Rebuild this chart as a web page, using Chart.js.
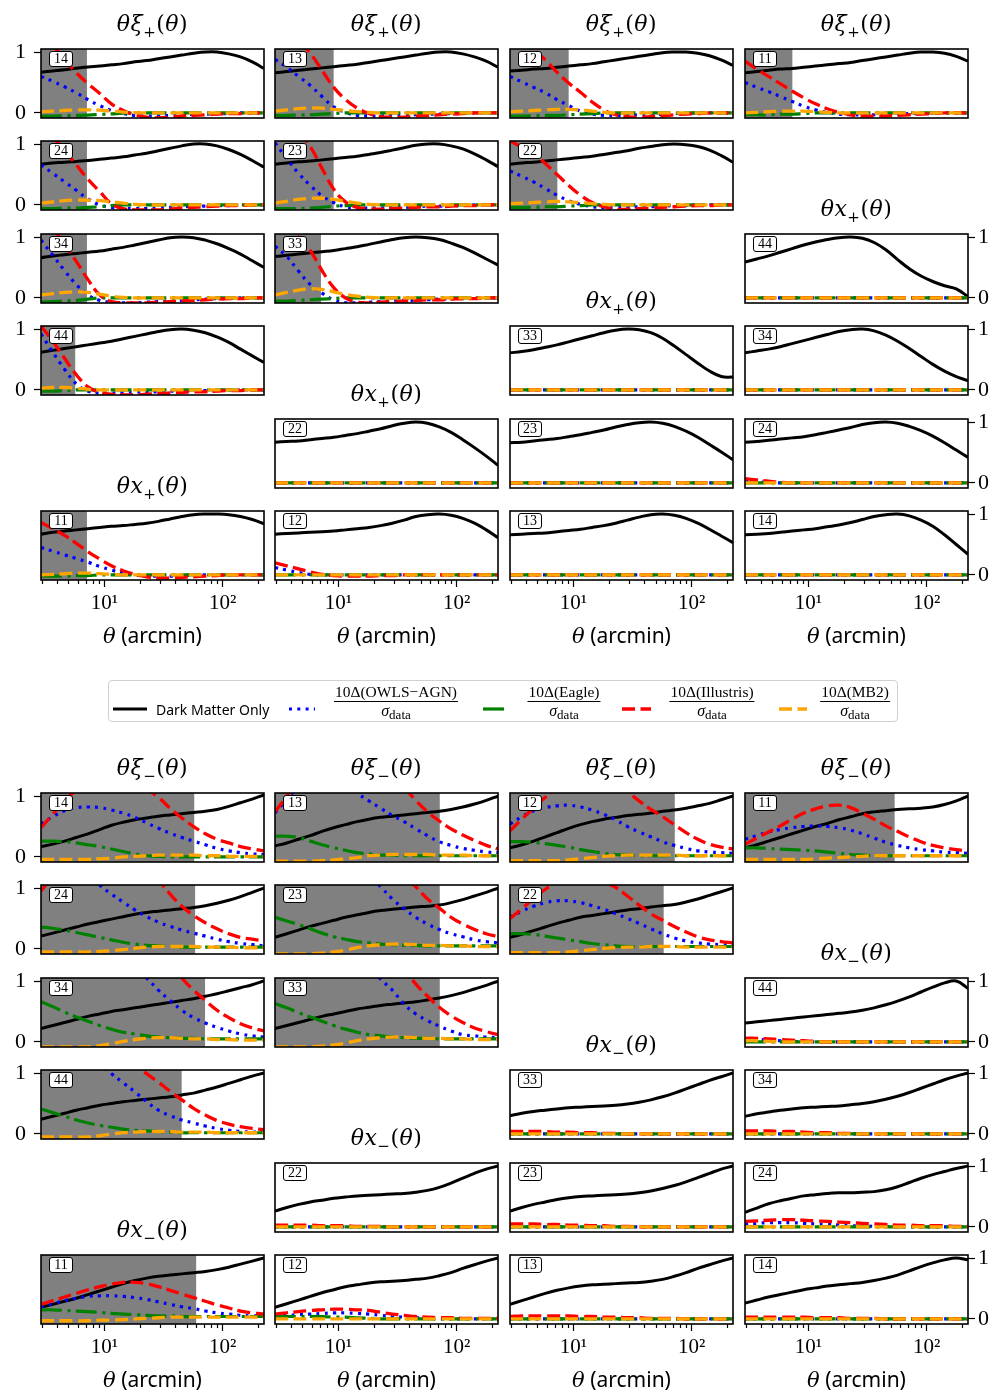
<!DOCTYPE html>
<html>
<head>
<meta charset="utf-8">
<title>Baryonic contamination of cosmic shear</title>
<script src="https://cdn.jsdelivr.net/npm/chart.js@4.4.1/dist/chart.umd.min.js"></script>
<style>
html,body{margin:0;padding:0;background:#fff;}
#fig{position:relative;width:997px;height:1399px;overflow:hidden;background:#fff;}
.pc{position:absolute;}
.pc canvas{display:block;}
.ttl{position:absolute;font-family:'DejaVu Serif',serif;font-size:22px;white-space:nowrap;transform:translate(-50%,-50%);line-height:1;color:#000;letter-spacing:0.5px;}
.ttl i{font-style:italic;}
.ttl sub{font-size:15px;vertical-align:-6px;line-height:0;}
.bx{position:absolute;width:22px;height:14px;border:1.7px solid #000;border-radius:3px;background:#fff;font-family:'Liberation Serif',serif;font-size:14px;line-height:14px;text-align:center;color:#000;}
.axt{position:absolute;white-space:nowrap;transform:translate(-50%,-50%);font-size:21px;line-height:1;color:#000;}
.axt i{font-family:'DejaVu Serif',serif;font-style:italic;}
.axt span{font-family:'Noto Sans',sans-serif;}
#legend{position:absolute;left:108px;top:680px;width:790px;height:42px;border:1.5px solid #d0d0d0;border-radius:4px;box-sizing:border-box;background:#fff;}
.lgtxt{position:absolute;font-family:'Noto Sans',sans-serif;font-size:14px;line-height:1;transform:translateY(-50%);white-space:nowrap;color:#000;}
.frac{position:absolute;transform:translateX(-50%);text-align:center;font-family:'Liberation Serif',serif;font-size:15.5px;line-height:1;color:#000;white-space:nowrap;}
.frac .num{border-bottom:1px solid #000;padding:0 1px 1px 1px;}
.frac .den{padding-top:1px;}
.frac .den i{font-style:italic;font-size:16px;}
.frac .den sub{font-size:13px;vertical-align:-3px;line-height:0;}
svg.lg{position:absolute;overflow:visible;}
</style>
</head>
<body>
<div id="fig"></div>
<script>
// ---------------- data ----------------
const THETA = [2.90,3.65,4.59,5.77,7.25,9.11,11.45,14.39,18.09,22.74,28.58,35.93,45.16,56.77,71.36,89.70,112.8,141.7,178.2,224.0];
const X_RANGE = [2.90, 224.0];
const Y_RANGE = [-0.083, 1.05];
const X_MINOR = [3,4,5,6,7,8,9,20,30,40,50,60,70,80,90,200];
const X_MAJOR = [10,100];
const X_TICK_TEXT = ['10\u00B9','10\u00B2'];
const Y_TICKS = [0,1];
const Y_TICK_TEXT = ['0','1'];
const SERIES_LABELS = ['Dark Matter Only','10\u0394(OWLS\u2212AGN)','10\u0394(Eagle)','10\u0394(Illustris)','10\u0394(MB2)'];

const BINS_XI = ['14','13','12','11','24','23','22','34','33','44'];
const BINS_X  = ['44','33','34','22','23','24','11','12','13','14'];
const ZERO20 = [0,0,0,0,0,0,0,0,0,0,0,0,0,0,0,0,0,0,0,0];

// theta xi_+ : scale cuts (arcmin)
const XIP_CUT = [7.1, 9.1, 9.1, 7.3, 7.1, 9.1, 7.3, 7.1, 7.1, 5.65];
const XIP_DMO = [
 [0.67,0.69,0.71,0.735,0.755,0.77,0.79,0.81,0.84,0.86,0.89,0.92,0.95,0.98,1.0,1.0,0.97,0.92,0.84,0.73],
 [0.66,0.68,0.70,0.72,0.74,0.76,0.78,0.80,0.83,0.86,0.89,0.92,0.95,0.98,1.0,1.0,0.97,0.92,0.85,0.75],
 [0.69,0.70,0.72,0.73,0.75,0.77,0.79,0.81,0.84,0.87,0.90,0.93,0.96,0.99,1.0,1.0,0.98,0.94,0.87,0.78],
 [0.66,0.68,0.70,0.72,0.73,0.75,0.77,0.79,0.81,0.83,0.86,0.89,0.92,0.95,0.98,1.0,1.0,0.98,0.93,0.85],
 [0.67,0.69,0.70,0.715,0.73,0.75,0.77,0.79,0.82,0.85,0.89,0.93,0.97,1.0,1.0,0.97,0.91,0.83,0.73,0.62],
 [0.67,0.69,0.71,0.72,0.74,0.76,0.78,0.80,0.83,0.86,0.90,0.94,0.98,1.0,1.0,0.97,0.92,0.84,0.74,0.63],
 [0.67,0.69,0.70,0.72,0.74,0.76,0.78,0.80,0.83,0.86,0.89,0.93,0.96,0.99,1.0,0.99,0.96,0.90,0.81,0.70],
 [0.66,0.69,0.71,0.73,0.75,0.77,0.80,0.83,0.87,0.91,0.95,0.99,1.0,0.99,0.95,0.89,0.81,0.72,0.61,0.50],
 [0.68,0.70,0.72,0.74,0.76,0.78,0.81,0.84,0.88,0.92,0.96,0.99,1.0,0.99,0.96,0.90,0.83,0.74,0.64,0.54],
 [0.62,0.65,0.68,0.71,0.74,0.77,0.80,0.84,0.88,0.92,0.96,0.99,1.0,0.98,0.94,0.87,0.78,0.67,0.56,0.45]
];
const XIP_OWLS = [
 [0.60,0.52,0.43,0.33,0.22,0.12,0.04,-0.01,-0.04,-0.05,-0.05,-0.04,-0.03,-0.02,-0.02,-0.01,-0.01,0,0,0],
 [0.88,0.75,0.60,0.45,0.27,0.10,0.01,-0.04,-0.05,-0.05,-0.04,-0.03,-0.03,-0.02,-0.02,-0.01,-0.01,0,0,0],
 [0.60,0.51,0.42,0.33,0.22,0.12,0.03,-0.02,-0.04,-0.04,-0.04,-0.03,-0.03,-0.02,-0.01,-0.01,0,0,0,0],
 [0.50,0.42,0.35,0.27,0.19,0.11,0.05,0.01,-0.02,-0.03,-0.03,-0.03,-0.02,-0.02,-0.01,-0.01,0,0,0,0],
 [0.66,0.52,0.38,0.24,0.10,0.00,-0.04,-0.05,-0.06,-0.06,-0.05,-0.04,-0.03,-0.02,-0.02,-0.01,-0.01,0,0,0],
 [1.02,0.76,0.52,0.32,0.15,0.04,-0.03,-0.05,-0.05,-0.05,-0.04,-0.04,-0.03,-0.02,-0.02,-0.01,-0.01,0,0,0],
 [0.56,0.47,0.38,0.27,0.16,0.07,0.01,-0.03,-0.04,-0.04,-0.04,-0.03,-0.03,-0.02,-0.01,-0.01,0,0,0,0],
 [0.95,0.70,0.45,0.22,0.05,-0.04,-0.07,-0.08,-0.08,-0.07,-0.06,-0.05,-0.04,-0.03,-0.02,-0.01,-0.01,0,0,0],
 [0.85,0.68,0.44,0.22,0.08,-0.03,-0.08,-0.08,-0.07,-0.06,-0.05,-0.04,-0.04,-0.03,-0.02,-0.01,-0.01,0,0,0],
 [0.92,0.62,0.34,0.10,-0.02,-0.05,-0.05,-0.05,-0.04,-0.03,-0.03,-0.02,-0.02,-0.01,-0.01,-0.01,0,0,0,0]
];
const XIP_EAGLE = [
 [-0.05,-0.05,-0.045,-0.04,-0.035,-0.025,-0.015,-0.005,0,0,0,0,0,0,0,0,0,0,0,0],
 [-0.04,-0.04,-0.035,-0.03,-0.02,-0.01,0,0,0,0,0,0,0,0,0,0,0,0,0,0],
 [-0.05,-0.05,-0.045,-0.04,-0.04,-0.03,-0.02,-0.01,0,0,0,0,0,0,0,0,0,0,0,0],
 [-0.03,-0.03,-0.03,-0.02,-0.02,-0.01,0,0,0,0,0,0,0,0,0,0,0,0,0,0],
 [-0.06,-0.06,-0.05,-0.05,-0.04,-0.03,-0.01,0,0,0,0,0,0,0,0,0,0,0,0,0],
 [-0.06,-0.06,-0.06,-0.05,-0.04,-0.02,-0.01,0,0,0,0,0,0,0,0,0,0,0,0,0],
 [-0.04,-0.04,-0.04,-0.03,-0.03,-0.02,-0.01,0,0,0,0,0,0,0,0,0,0,0,0,0],
 [-0.07,-0.06,-0.05,-0.04,-0.02,0,0,0,0,0,0,0,0,0,0,0,0,0,0,0],
 [-0.05,-0.05,-0.04,-0.03,-0.02,-0.01,0,0,0,0,0,0,0,0,0,0,0,0,0,0],
 [-0.02,-0.02,-0.01,0,0,0,0,0,0,0,0,0,0,0,0,0,0,0,0,0]
];
const XIP_ILL = [
 [1.35,1.12,0.88,0.66,0.48,0.32,0.15,0.04,-0.03,-0.07,-0.08,-0.07,-0.05,-0.04,-0.03,-0.02,-0.01,-0.01,0,0],
 [1.6,1.4,1.18,0.98,0.70,0.42,0.22,0.08,-0.01,-0.06,-0.07,-0.07,-0.05,-0.04,-0.03,-0.02,-0.01,0,0,0],
 [1.45,1.25,1.05,0.87,0.67,0.49,0.34,0.18,0.05,-0.03,-0.06,-0.07,-0.06,-0.05,-0.03,-0.02,-0.01,0,0,0],
 [0.85,0.72,0.60,0.48,0.36,0.25,0.15,0.07,0.01,-0.03,-0.05,-0.05,-0.05,-0.04,-0.03,-0.02,-0.01,0,0,0],
 [1.35,1.12,0.90,0.66,0.42,0.22,0.02,-0.06,-0.08,-0.08,-0.08,-0.07,-0.05,-0.04,-0.03,-0.02,-0.01,-0.01,0,0],
 [1.65,1.42,1.2,0.96,0.60,0.26,0.05,-0.04,-0.06,-0.07,-0.06,-0.05,-0.04,-0.03,-0.03,-0.02,-0.01,-0.01,0,0],
 [1.05,0.95,0.85,0.68,0.50,0.32,0.16,0.04,-0.03,-0.07,-0.07,-0.06,-0.05,-0.04,-0.03,-0.02,-0.01,-0.01,0,0],
 [1.4,1.15,0.88,0.60,0.30,0.05,-0.06,-0.08,-0.08,-0.08,-0.07,-0.06,-0.05,-0.04,-0.03,-0.02,-0.01,-0.01,0,0],
 [1.5,1.25,1.0,0.78,0.45,0.17,0.0,-0.07,-0.08,-0.07,-0.06,-0.05,-0.04,-0.03,-0.03,-0.02,-0.01,-0.01,0,0],
 [1.05,0.80,0.52,0.25,0.05,-0.04,-0.07,-0.08,-0.08,-0.07,-0.06,-0.05,-0.04,-0.03,-0.03,-0.02,-0.01,-0.01,0,0]
];
const XIP_MB2 = [
 [0.02,0.03,0.04,0.05,0.05,0.045,0.03,0.015,0.005,0,0,0,0,0,0,0,0,0,0,0],
 [0.03,0.05,0.07,0.08,0.08,0.06,0.04,0.02,0.01,0,0,0,0,0,0,0,0,0,0,0],
 [0.02,0.03,0.04,0.05,0.06,0.06,0.05,0.03,0.01,0,0,0,0,0,0,0,0,0,0,0],
 [0.0,0.01,0.02,0.03,0.03,0.03,0.02,0.01,0,0,0,0,0,0,0,0,0,0,0,0],
 [0.03,0.05,0.07,0.08,0.08,0.07,0.05,0.03,0.01,0,0,0,0,0,0,0,0,0,0,0],
 [0.03,0.06,0.09,0.11,0.11,0.09,0.06,0.03,0.01,0,0,0,0,0,0,0,0,0,0,0],
 [0.02,0.03,0.04,0.05,0.06,0.05,0.04,0.02,0.01,0,0,0,0,0,0,0,0,0,0,0],
 [0.05,0.07,0.09,0.10,0.09,0.06,0.03,0.01,0,0,0,0,0,0,0,0,0,0,0,0],
 [0.05,0.09,0.13,0.15,0.14,0.10,0.06,0.03,0.01,0,0,0,0,0,0,0,0,0,0,0],
 [0.03,0.04,0.04,0.03,0.01,0,0,0,0,0,0,0,0,0,0,0,0,0,0,0]
];

// theta x_+
const XP_CUT = [null,null,null,null,null,null,7.1,null,null,null];
const XP_DMO = [
 [0.59,0.64,0.69,0.75,0.81,0.87,0.92,0.96,0.99,1.0,0.98,0.91,0.79,0.63,0.48,0.36,0.27,0.20,0.15,0.02],
 [0.61,0.63,0.66,0.70,0.74,0.79,0.84,0.89,0.94,0.98,1.0,0.99,0.94,0.85,0.72,0.58,0.44,0.31,0.22,0.21],
 [0.61,0.64,0.67,0.71,0.76,0.81,0.86,0.91,0.96,0.99,1.0,0.97,0.90,0.80,0.68,0.55,0.42,0.31,0.22,0.15],
 [0.67,0.68,0.69,0.71,0.73,0.75,0.78,0.81,0.85,0.89,0.94,0.98,1.0,0.98,0.92,0.83,0.71,0.58,0.44,0.29],
 [0.66,0.67,0.69,0.71,0.73,0.76,0.79,0.83,0.87,0.92,0.96,0.99,1.0,0.98,0.93,0.85,0.75,0.63,0.51,0.38],
 [0.67,0.68,0.70,0.72,0.74,0.76,0.79,0.83,0.87,0.91,0.96,0.99,1.0,0.98,0.93,0.86,0.77,0.66,0.54,0.42],
 [0.67,0.70,0.72,0.74,0.76,0.78,0.80,0.81,0.83,0.85,0.88,0.92,0.96,0.99,1.0,1.0,0.99,0.96,0.91,0.84],
 [0.67,0.68,0.69,0.70,0.71,0.72,0.74,0.76,0.78,0.81,0.85,0.90,0.96,0.99,1.0,0.98,0.93,0.85,0.74,0.61],
 [0.66,0.67,0.68,0.69,0.71,0.73,0.75,0.78,0.81,0.85,0.90,0.95,0.99,1.0,0.98,0.93,0.85,0.75,0.64,0.53],
 [0.66,0.67,0.68,0.70,0.72,0.74,0.76,0.79,0.82,0.86,0.91,0.96,0.99,1.0,0.97,0.90,0.80,0.66,0.50,0.34]
];
const XP_OWLS = [
 ZERO20, ZERO20, ZERO20, ZERO20, ZERO20,
 [0.03,0.02,0.01,0,0,0,0,0,0,0,0,0,0,0,0,0,0,0,0,0],
 [0.45,0.39,0.33,0.27,0.21,0.14,0.08,0.03,0.0,-0.02,-0.02,-0.02,-0.01,0,0,0,0,0,0,0],
 [0.12,0.08,0.04,0.01,0,0,0,0,0,0,0,0,0,0,0,0,0,0,0,0],
 ZERO20, ZERO20
];
const XP_EAGLE = [
 ZERO20, ZERO20, ZERO20, ZERO20, ZERO20, ZERO20,
 [-0.02,-0.02,-0.02,-0.01,-0.01,0,0,0,0,0,0,0,0,0,0,0,0,0,0,0],
 ZERO20, ZERO20, ZERO20
];
const XP_ILL = [
 ZERO20, ZERO20, ZERO20, ZERO20, ZERO20,
 [0.07,0.05,0.03,0.01,0,0,0,0,0,0,0,0,0,0,0,0,0,0,0,0],
 [0.86,0.76,0.65,0.52,0.38,0.26,0.15,0.07,0.01,-0.03,-0.05,-0.05,-0.04,-0.03,-0.02,-0.01,0,0,0,0],
 [0.20,0.15,0.10,0.05,0.01,-0.01,-0.02,-0.02,-0.02,-0.01,-0.01,0,0,0,0,0,0,0,0,0],
 ZERO20, ZERO20
];
const XP_MB2 = [
 ZERO20, ZERO20, ZERO20, ZERO20, ZERO20, ZERO20,
 [0.0,0.01,0.02,0.03,0.03,0.02,0.01,0,0,0,0,0,0,0,0,0,0,0,0,0],
 ZERO20, ZERO20, ZERO20
];

// theta xi_-
const XIM_CUT = [57.5, 72, 72, 53.6, 58.5, 72, 58, 71, 72, 45];
const XIM_DMO = [
 [0.17,0.21,0.26,0.32,0.38,0.45,0.52,0.57,0.61,0.64,0.67,0.69,0.71,0.73,0.75,0.78,0.83,0.89,0.95,1.02],
 [0.18,0.23,0.29,0.35,0.42,0.48,0.53,0.58,0.62,0.65,0.67,0.69,0.71,0.73,0.75,0.78,0.82,0.87,0.93,1.0],
 [0.15,0.20,0.26,0.33,0.40,0.47,0.53,0.58,0.62,0.65,0.68,0.70,0.72,0.75,0.77,0.80,0.84,0.88,0.94,1.0],
 [0.15,0.20,0.26,0.32,0.38,0.44,0.50,0.55,0.61,0.66,0.71,0.74,0.76,0.78,0.79,0.80,0.82,0.86,0.92,1.0],
 [0.21,0.26,0.31,0.36,0.41,0.45,0.49,0.53,0.57,0.60,0.62,0.64,0.66,0.68,0.71,0.75,0.80,0.86,0.93,1.0],
 [0.19,0.25,0.31,0.37,0.42,0.47,0.52,0.56,0.60,0.63,0.65,0.67,0.69,0.70,0.72,0.76,0.81,0.87,0.93,1.0],
 [0.19,0.24,0.30,0.36,0.42,0.47,0.52,0.55,0.58,0.61,0.64,0.66,0.69,0.71,0.73,0.77,0.82,0.88,0.94,1.0],
 [0.22,0.27,0.32,0.37,0.42,0.46,0.50,0.53,0.56,0.59,0.62,0.65,0.68,0.71,0.75,0.79,0.84,0.89,0.94,1.0],
 [0.22,0.27,0.32,0.37,0.42,0.46,0.50,0.54,0.57,0.60,0.62,0.64,0.66,0.69,0.72,0.76,0.81,0.87,0.93,1.0],
 [0.24,0.29,0.34,0.39,0.43,0.47,0.50,0.53,0.55,0.57,0.59,0.61,0.64,0.67,0.72,0.77,0.83,0.89,0.95,1.0]
];
const XIM_OWLS = [
 [0.54,0.66,0.76,0.81,0.82,0.81,0.77,0.72,0.65,0.56,0.47,0.39,0.32,0.26,0.20,0.14,0.10,0.07,0.05,0.04],
 [0.72,0.95,1.15,1.3,1.35,1.32,1.22,1.05,0.92,0.80,0.68,0.58,0.46,0.35,0.25,0.19,0.14,0.11,0.08,0.07],
 [0.54,0.66,0.76,0.81,0.84,0.85,0.82,0.77,0.70,0.61,0.50,0.41,0.33,0.25,0.19,0.14,0.10,0.08,0.07,0.06],
 [0.29,0.35,0.41,0.45,0.48,0.50,0.51,0.50,0.48,0.44,0.38,0.31,0.24,0.19,0.15,0.12,0.10,0.08,0.07,0.06],
 [2.2,1.9,1.65,1.45,1.25,1.05,0.90,0.77,0.64,0.53,0.44,0.37,0.31,0.26,0.21,0.16,0.12,0.09,0.07,0.05],
 [3.0,2.7,2.45,2.2,2.0,1.8,1.6,1.4,1.2,1.02,0.82,0.66,0.52,0.41,0.32,0.25,0.20,0.15,0.12,0.10],
 [0.52,0.62,0.70,0.76,0.79,0.79,0.76,0.71,0.65,0.58,0.50,0.42,0.33,0.25,0.18,0.13,0.10,0.08,0.07,0.06],
 [2.8,2.6,2.4,2.2,2.0,1.8,1.6,1.4,1.2,1.05,0.85,0.68,0.52,0.40,0.31,0.24,0.18,0.13,0.10,0.08],
 [3.0,2.8,2.6,2.4,2.2,2.0,1.8,1.5,1.25,1.03,0.85,0.62,0.46,0.35,0.26,0.18,0.12,0.10,0.08,0.07],
 [2.5,2.2,1.9,1.6,1.35,1.15,0.99,0.84,0.69,0.53,0.39,0.30,0.23,0.18,0.13,0.09,0.06,0.04,0.03,0.03]
];
const XIM_EAGLE = [
 [0.26,0.26,0.25,0.23,0.20,0.17,0.13,0.09,0.05,0.02,0.01,0,0,0,0,0,0,0,0,0],
 [0.34,0.34,0.32,0.26,0.20,0.15,0.11,0.07,0.05,0.03,0.03,0.02,0.02,0.02,0.02,0.02,0.02,0.02,0.02,0.02],
 [0.25,0.25,0.24,0.22,0.19,0.16,0.12,0.09,0.06,0.04,0.03,0.02,0.02,0.02,0.02,0.02,0.02,0.02,0.02,0.02],
 [0.15,0.15,0.14,0.13,0.12,0.11,0.10,0.08,0.06,0.04,0.03,0.02,0.02,0.02,0.02,0.02,0.02,0.02,0.02,0.02],
 [0.36,0.34,0.31,0.27,0.23,0.19,0.15,0.11,0.08,0.06,0.05,0.04,0.03,0.03,0.03,0.03,0.03,0.03,0.03,0.03],
 [0.52,0.46,0.40,0.33,0.26,0.20,0.16,0.12,0.10,0.08,0.07,0.06,0.06,0.05,0.05,0.05,0.05,0.05,0.05,0.05],
 [0.25,0.25,0.24,0.21,0.18,0.15,0.12,0.09,0.07,0.05,0.04,0.04,0.04,0.04,0.04,0.04,0.04,0.04,0.04,0.04],
 [0.66,0.58,0.49,0.41,0.34,0.27,0.21,0.16,0.13,0.10,0.08,0.07,0.06,0.06,0.05,0.05,0.05,0.05,0.05,0.05],
 [0.63,0.56,0.48,0.41,0.34,0.27,0.21,0.16,0.12,0.10,0.08,0.07,0.06,0.06,0.05,0.05,0.05,0.05,0.05,0.05],
 [0.41,0.35,0.29,0.23,0.18,0.14,0.11,0.08,0.06,0.05,0.04,0.03,0.02,0.02,0.02,0.02,0.02,0.02,0.02,0.02]
];
const XIM_ILL = [
 [0.48,0.70,0.92,1.1,1.25,1.35,1.38,1.35,1.25,1.12,0.98,0.80,0.64,0.50,0.38,0.29,0.23,0.17,0.13,0.10],
 [0.74,1.0,1.3,1.55,1.75,1.9,1.95,1.92,1.8,1.6,1.38,1.15,0.93,0.74,0.59,0.46,0.36,0.27,0.19,0.13],
 [0.43,0.62,0.80,0.98,1.12,1.25,1.33,1.35,1.3,1.2,1.07,0.92,0.78,0.66,0.53,0.40,0.29,0.21,0.16,0.13],
 [0.21,0.31,0.41,0.51,0.62,0.72,0.79,0.84,0.85,0.81,0.72,0.62,0.51,0.42,0.33,0.25,0.19,0.15,0.12,0.10],
 [0.95,1.2,1.45,1.65,1.85,1.95,2.0,1.9,1.7,1.45,1.15,0.90,0.70,0.55,0.43,0.33,0.25,0.19,0.16,0.13],
 [3.6,3.5,3.4,3.2,3.0,2.8,2.55,2.3,2.0,1.7,1.45,1.2,1.02,0.82,0.67,0.52,0.41,0.32,0.25,0.20],
 [0.50,0.66,0.83,0.98,1.1,1.18,1.2,1.17,1.1,1.01,0.87,0.72,0.58,0.47,0.37,0.28,0.20,0.15,0.12,0.10],
 [3.8,3.7,3.6,3.4,3.2,3.0,2.7,2.4,2.1,1.8,1.55,1.3,1.05,0.85,0.68,0.52,0.40,0.30,0.23,0.18],
 [3.8,3.7,3.6,3.4,3.2,3.0,2.7,2.4,2.1,1.8,1.5,1.2,0.95,0.75,0.57,0.43,0.32,0.23,0.17,0.12],
 [3.5,3.3,3.1,2.8,2.5,2.1,1.75,1.4,1.15,0.99,0.85,0.70,0.56,0.42,0.31,0.22,0.16,0.12,0.09,0.07]
];
const XIM_MB2 = [
 [-0.04,-0.04,-0.04,-0.04,-0.04,-0.03,-0.02,0.0,0.01,0.02,0.03,0.03,0.03,0.03,0.02,0.02,0.01,0.01,0.01,0.01],
 [-0.07,-0.07,-0.07,-0.07,-0.06,-0.05,-0.03,-0.01,0.02,0.03,0.04,0.04,0.04,0.04,0.03,0.03,0.03,0.02,0.02,0.02],
 [-0.06,-0.06,-0.06,-0.06,-0.06,-0.05,-0.03,-0.01,0.01,0.02,0.03,0.03,0.03,0.03,0.03,0.02,0.02,0.02,0.02,0.02],
 [-0.04,-0.04,-0.04,-0.04,-0.04,-0.04,-0.03,-0.02,-0.01,0.0,0.01,0.02,0.02,0.02,0.02,0.02,0.02,0.02,0.02,0.02],
 [-0.05,-0.05,-0.05,-0.05,-0.05,-0.04,-0.03,-0.01,0.01,0.03,0.04,0.04,0.04,0.04,0.03,0.03,0.03,0.02,0.02,0.02],
 [-0.08,-0.08,-0.08,-0.08,-0.07,-0.05,-0.02,0.02,0.05,0.07,0.08,0.08,0.07,0.06,0.06,0.05,0.05,0.04,0.04,0.04],
 [-0.06,-0.06,-0.06,-0.06,-0.06,-0.05,-0.03,-0.01,0.01,0.02,0.03,0.03,0.04,0.04,0.04,0.03,0.03,0.03,0.03,0.03],
 [-0.08,-0.08,-0.08,-0.08,-0.08,-0.06,-0.03,0.01,0.04,0.06,0.07,0.07,0.06,0.05,0.05,0.04,0.04,0.03,0.03,0.03],
 [-0.08,-0.08,-0.08,-0.08,-0.07,-0.05,-0.02,0.02,0.05,0.07,0.08,0.08,0.07,0.06,0.06,0.05,0.05,0.04,0.04,0.04],
 [-0.05,-0.05,-0.05,-0.05,-0.05,-0.03,0.0,0.02,0.03,0.04,0.04,0.04,0.03,0.03,0.03,0.02,0.02,0.02,0.02,0.02]
];

// theta x_-
const XM_CUT = [null,null,null,null,null,null,59.7,null,null,null];
const XM_DMO = [
 [0.31,0.33,0.35,0.37,0.39,0.41,0.43,0.45,0.47,0.49,0.52,0.56,0.61,0.67,0.74,0.82,0.90,0.97,1.0,0.88],
 [0.30,0.34,0.37,0.39,0.41,0.43,0.44,0.45,0.46,0.47,0.49,0.52,0.56,0.61,0.67,0.74,0.81,0.88,0.94,1.0],
 [0.29,0.33,0.36,0.39,0.41,0.43,0.44,0.45,0.46,0.48,0.50,0.53,0.57,0.62,0.68,0.75,0.82,0.89,0.95,1.0],
 [0.26,0.32,0.37,0.41,0.44,0.47,0.49,0.51,0.52,0.53,0.54,0.55,0.57,0.60,0.65,0.72,0.80,0.88,0.95,1.0],
 [0.26,0.32,0.37,0.41,0.45,0.48,0.50,0.51,0.52,0.53,0.54,0.56,0.59,0.63,0.68,0.74,0.81,0.88,0.95,1.0],
 [0.24,0.31,0.38,0.43,0.47,0.51,0.53,0.55,0.56,0.56,0.57,0.58,0.61,0.66,0.73,0.80,0.86,0.91,0.96,1.0],
 [0.19,0.24,0.29,0.34,0.40,0.46,0.52,0.58,0.63,0.67,0.70,0.72,0.74,0.76,0.78,0.81,0.85,0.90,0.95,1.0],
 [0.19,0.25,0.31,0.37,0.43,0.48,0.53,0.56,0.59,0.61,0.62,0.63,0.65,0.67,0.71,0.76,0.83,0.89,0.95,1.0],
 [0.24,0.30,0.36,0.42,0.47,0.51,0.54,0.56,0.57,0.58,0.59,0.60,0.62,0.65,0.70,0.76,0.83,0.89,0.95,1.0],
 [0.26,0.31,0.36,0.40,0.44,0.48,0.51,0.54,0.56,0.58,0.60,0.63,0.67,0.72,0.79,0.86,0.92,0.97,1.0,0.97]
];
const XM_OWLS = [
 [0.04,0.04,0.03,0.02,0.01,0,0,0,0,0,0,0,0,0,0,0,0,0,0,0],
 ZERO20, ZERO20, ZERO20, ZERO20,
 [0.05,0.06,0.07,0.07,0.07,0.06,0.05,0.04,0.03,0.02,0.02,0.01,0.01,0,0,0,0,0,0,0],
 [0.20,0.25,0.30,0.34,0.37,0.38,0.38,0.37,0.35,0.32,0.28,0.24,0.20,0.17,0.13,0.10,0.08,0.06,0.05,0.05],
 [0.05,0.06,0.07,0.08,0.09,0.10,0.10,0.09,0.08,0.06,0.04,0.03,0.02,0.01,0,0,0,0,0,0],
 ZERO20, ZERO20
];
const XM_EAGLE = [
 ZERO20, ZERO20, ZERO20, ZERO20, ZERO20, ZERO20,
 [0.15,0.15,0.14,0.13,0.12,0.11,0.09,0.08,0.07,0.06,0.05,0.05,0.04,0.04,0.04,0.04,0.04,0.04,0.04,0.04],
 [0.04,0.04,0.04,0.04,0.04,0.03,0.03,0.02,0.01,0,0,0,0,0,0,0,0,0,0,0],
 ZERO20, ZERO20
];
const XM_ILL = [
 [0.06,0.06,0.05,0.04,0.03,0.02,0.01,0,0,0,0,0,0,0,0,0,0,0,0,0],
 [0.04,0.04,0.04,0.04,0.03,0.03,0.02,0.02,0.01,0.01,0,0,0,0,0,0,0,0,0,0],
 [0.05,0.05,0.05,0.04,0.04,0.03,0.02,0.02,0.01,0.01,0,0,0,0,0,0,0,0,0,0],
 [0.03,0.03,0.03,0.03,0.02,0.02,0.02,0.01,0.01,0.01,0,0,0,0,0,0,0,0,0,0],
 [0.05,0.05,0.05,0.04,0.04,0.03,0.03,0.02,0.02,0.01,0.01,0,0,0,0,0,0,0,0,0],
 [0.09,0.10,0.11,0.12,0.12,0.11,0.10,0.09,0.08,0.07,0.06,0.05,0.04,0.03,0.03,0.02,0.02,0.02,0.01,0.01],
 [0.24,0.30,0.36,0.42,0.48,0.53,0.57,0.60,0.60,0.58,0.53,0.47,0.41,0.35,0.29,0.23,0.18,0.13,0.10,0.08],
 [0.08,0.10,0.12,0.14,0.15,0.16,0.16,0.15,0.14,0.11,0.08,0.06,0.04,0.03,0.02,0.02,0.01,0.01,0.01,0.01],
 [0.04,0.05,0.05,0.05,0.05,0.05,0.04,0.04,0.03,0.03,0.02,0.02,0.01,0.01,0.01,0,0,0,0,0],
 [0.03,0.03,0.03,0.03,0.03,0.03,0.02,0.02,0.02,0.01,0.01,0.01,0,0,0,0,0,0,0,0]
];
const XM_MB2 = [
 [0.02,0.02,0.01,0,0,0,0,0,0,0,0,0,0,0,0,0,0,0,0,0],
 ZERO20, ZERO20, ZERO20, ZERO20, ZERO20,
 [-0.03,-0.03,-0.03,-0.03,-0.03,-0.02,-0.02,-0.01,0.0,0.01,0.02,0.03,0.03,0.03,0.03,0.03,0.03,0.03,0.03,0.03],
 ZERO20, ZERO20, ZERO20
];

// ---------------- styles & layout ----------------
const SERIES_STYLE = [
  {color:'#000000', width:3.0, dash:[], order:5},
  {color:'#0000ff', width:3.2, dash:[3,5.3], order:4},
  {color:'#008000', width:3.2, dash:[21,5.3,3.3,5.3], order:3},
  {color:'#ff0000', width:3.3, dash:[13,5.5], order:2},
  {color:'#ffa500', width:3.3, dash:[13,5.5], order:1}
];
const COL_LEFT = [41, 275, 510, 745];
const PW = 223, PH = 69;
const HALF_TOP = [49, 793];
const ROW_PITCH = 92.4;
const M = 40;

const GROUPS = [
  {half:0, kind:'xi', sign:'+', bins:BINS_XI, cut:XIP_CUT, data:[XIP_DMO,XIP_OWLS,XIP_EAGLE,XIP_ILL,XIP_MB2]},
  {half:0, kind:'x',  sign:'+', bins:BINS_X,  cut:XP_CUT,  data:[XP_DMO,XP_OWLS,XP_EAGLE,XP_ILL,XP_MB2]},
  {half:1, kind:'xi', sign:'\u2212', bins:BINS_XI, cut:XIM_CUT, data:[XIM_DMO,XIM_OWLS,XIM_EAGLE,XIM_ILL,XIM_MB2]},
  {half:1, kind:'x',  sign:'\u2212', bins:BINS_X,  cut:XM_CUT,  data:[XM_DMO,XM_OWLS,XM_EAGLE,XM_ILL,XM_MB2]}
];

const fig = document.getElementById('fig');
function rowTop(half,row){ return Math.round(HALF_TOP[half] + row*ROW_PITCH); }
function addHTML(cls, html, x, y){
  const d = document.createElement('div'); d.className = cls; d.innerHTML = html;
  d.style.left = x+'px'; d.style.top = y+'px'; fig.appendChild(d); return d;
}

const framePlugin = {
  id:'frame',
  afterDatasetsDraw(chart){
    const a = chart.chartArea, c = chart.ctx;
    c.save(); c.lineWidth = 1.6; c.strokeStyle = '#000';
    c.strokeRect(a.left, a.top, a.right-a.left, a.bottom-a.top); c.restore();
  }
};
function shadePlugin(cut){
  return {
    id:'shade',
    beforeDatasetsDraw(chart){
      if (cut == null) return;
      const a = chart.chartArea, c = chart.ctx;
      const xp = chart.scales.x.getPixelForValue(cut);
      c.save(); c.fillStyle = '#808080';
      c.fillRect(a.left, a.top, xp - a.left, a.bottom - a.top); c.restore();
    }
  };
}

function buildPanel(g, idx){
  const bin = g.bins[idx];
  const a = +bin[0], b = +bin[1];
  const row = g.kind === 'xi' ? a-1 : 6-a;
  const col = g.kind === 'xi' ? 4-b : b-1;
  const left = COL_LEFT[col], top = rowTop(g.half, row);
  const yLabeled = (g.kind === 'xi' && col === 0) || (g.kind === 'x' && col === 3);
  const yPos = (g.kind === 'x' && col === 3) ? 'right' : 'left';
  const xLabeled = row === 5;

  const holder = document.createElement('div');
  holder.className = 'pc';
  holder.style.left = (left - M) + 'px';
  holder.style.top = (top - M) + 'px';
  const cv = document.createElement('canvas');
  cv.width = PW + 2*M; cv.height = PH + 2*M;
  cv.style.width = cv.width + 'px'; cv.style.height = cv.height + 'px';
  holder.appendChild(cv); fig.appendChild(holder);

  const datasets = SERIES_STYLE.map((s, k) => ({
    label: SERIES_LABELS[k],
    data: THETA.map((t, i) => ({x:t, y:g.data[k][idx][i]})),
    borderColor: s.color, borderWidth: s.width, borderDash: s.dash, order: s.order,
    pointRadius: 0, fill: false, tension: 0.4, clip: 0
  }));
  const allX = X_MINOR.concat(X_MAJOR).sort((p,q)=>p-q);

  new Chart(cv, {
    type: 'line',
    data: {datasets},
    options: {
      responsive: false, animation: false, devicePixelRatio: 1,
      events: [],
      layout: {padding: {top: M, bottom: 0, left: yPos === 'right' ? M : 0, right: yPos === 'left' ? M : 0}},
      plugins: {legend: {display: false}, tooltip: {enabled: false}},
      scales: {
        x: {
          type: 'logarithmic', min: X_RANGE[0], max: X_RANGE[1], position: 'bottom',
          afterBuildTicks(s){ s.ticks = allX.map(v => ({value: v, major: X_MAJOR.includes(v)})); },
          afterFit(s){ s.height = M; s.paddingLeft = 0; s.paddingRight = 0; },
          grid: {display: true, drawOnChartArea: false, drawTicks: xLabeled, tickLength: 7, tickColor: '#000', tickWidth: 1.2,
                 tickBorderDash: (ctx) => (ctx.tick && X_MAJOR.includes(ctx.tick.value)) ? [] : [4, 30]},
          border: {display: false},
          ticks: {display: xLabeled, autoSkip: false, maxRotation: 0, minRotation: 0, padding: 4, color: '#000',
                  font: {family: 'Liberation Serif', size: 21},
                  callback: (v) => { const k = X_MAJOR.indexOf(v); return k >= 0 ? X_TICK_TEXT[k] : ''; }}
        },
        y: {
          type: 'linear', min: Y_RANGE[0], max: Y_RANGE[1], position: yPos,
          afterBuildTicks(s){ s.ticks = Y_TICKS.map(v => ({value: v})); },
          afterFit(s){ s.width = M; s.paddingTop = 0; s.paddingBottom = 0; },
          grid: {display: true, drawOnChartArea: false, drawTicks: yLabeled, tickLength: 7, tickColor: '#000', tickWidth: 1.2},
          border: {display: false},
          ticks: {display: yLabeled, padding: yPos === 'left' ? 8 : 3, color: '#000',
                  font: {family: 'Liberation Serif', size: 22},
                  callback: (v) => { const k = Y_TICKS.indexOf(v); return k >= 0 ? Y_TICK_TEXT[k] : ''; }}
        }
      }
    },
    plugins: [shadePlugin(g.cut[idx]), framePlugin]
  });

  // bin-pair label box
  addHTML('bx', bin, left + 8, top + 2);
  // title over the panel
  const showTitle = (g.kind === 'xi' && row === 0) || (g.kind === 'x' && a === b);
  if (showTitle) {
    const sym = g.kind === 'xi' ? '\u03B8\u03BE' : '\u03B8x';
    addHTML('ttl', '<i>' + sym + '</i><sub>' + g.sign + '</sub>(<i>\u03B8</i>)', left + PW/2, top - 25);
  }
  if (xLabeled) {
    addHTML('axt', '<i>\u03B8</i><span> (arcmin)</span>', left + PW/2, top + PH + 56);
  }
}

GROUPS.forEach(g => g.bins.forEach((_, i) => buildPanel(g, i)));

// ---------------- legend ----------------
const lg = document.createElement('div'); lg.id = 'legend'; fig.appendChild(lg);
function sample(x1, x2, y, st){
  const ns = 'http://www.w3.org/2000/svg';
  const svg = document.createElementNS(ns, 'svg');
  svg.setAttribute('class', 'lg'); svg.setAttribute('width', x2 - x1); svg.setAttribute('height', 10);
  svg.style.left = x1 + 'px'; svg.style.top = (y - 5) + 'px';
  const ln = document.createElementNS(ns, 'line');
  ln.setAttribute('x1', 0); ln.setAttribute('x2', x2 - x1); ln.setAttribute('y1', 5); ln.setAttribute('y2', 5);
  ln.setAttribute('stroke', st.color); ln.setAttribute('stroke-width', st.width);
  if (st.dash.length) ln.setAttribute('stroke-dasharray', st.dash.join(' '));
  svg.appendChild(ln); fig.appendChild(svg);
}
sample(113, 147, 709, SERIES_STYLE[0]);
addHTML('lgtxt', SERIES_LABELS[0], 156, 710);
const LEG_X = [[289, 315, 396], [483, 506, 564], [622, 651, 712], [779, 807, 855]];
for (let k = 1; k < 5; k++) {
  const [x1, x2, cx] = LEG_X[k-1];
  sample(x1, x2, 709, SERIES_STYLE[k]);
  addHTML('frac', '<div class="num">' + SERIES_LABELS[k] + '</div><div class="den"><i>\u03C3</i><sub>data</sub></div>', cx, 684);
}
</script>
</body>
</html>
